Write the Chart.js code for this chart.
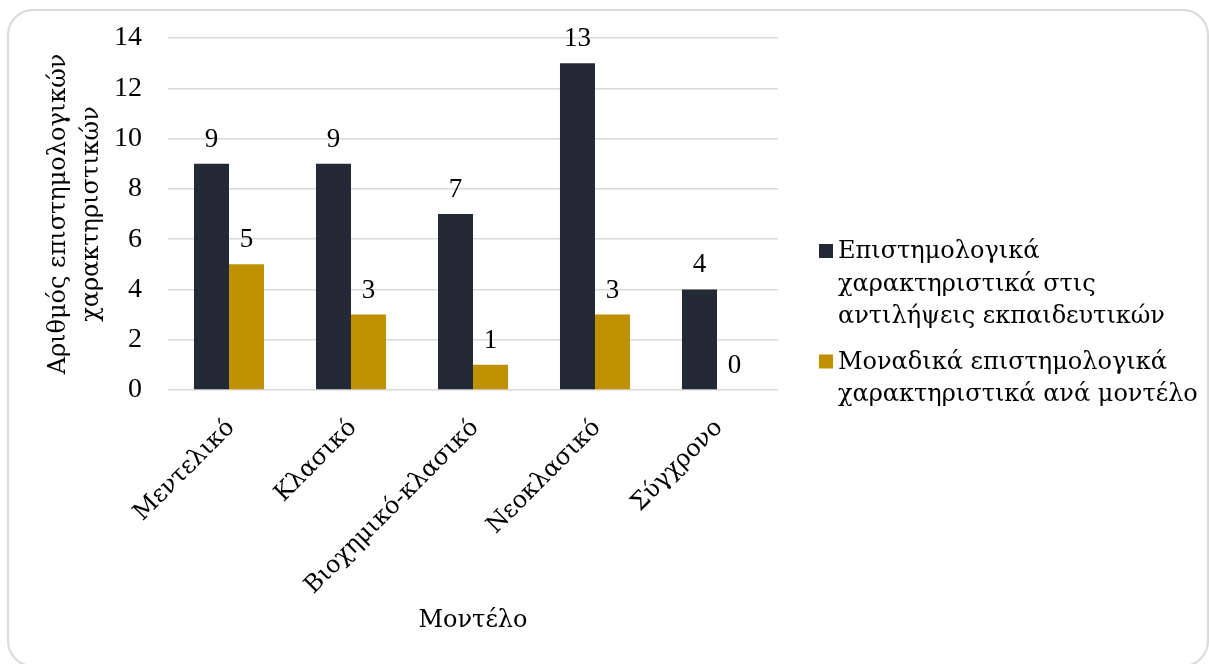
<!DOCTYPE html>
<html>
<head>
<meta charset="utf-8">
<script src="https://cdn.jsdelivr.net/npm/chart.js@4"></script>
<style>
  html, body { margin: 0; padding: 0; background: #fff; overflow: hidden; }
  #frame { position: absolute; left: 7px; top: 9px; width: 1202px; height: 658px; border: 2px solid #d9d9d9; border-radius: 26px; box-sizing: border-box; }
  #wrap { position: absolute; left: 0; top: 0; width: 1209px; height: 664px; }
</style>
</head>
<body>
<div id="frame"></div>
<div id="wrap"><canvas id="chart" width="1209" height="664"></canvas></div>
<script>
const categories = ["Μεντελικό", "Κλασικό", "Βιοχημικό-κλασικό", "Νεοκλασικό", "Σύγχρονο"]
const perceptionFeatures = [9, 9, 7, 13, 4]
const uniqueFeatures = [5, 3, 1, 3, 0]
const seriesLabels = [
  ["Επιστημολογικά", "χαρακτηριστικά στις", "αντιλήψεις εκπαιδευτικών"],
  ["Μοναδικά επιστημολογικά", "χαρακτηριστικά ανά μοντέλο"],
]
const seriesColors = ["#232a36", "#bf9000"]
const yTicks = [0, 2, 4, 6, 8, 10, 12, 14]
const yTitle = ["Αριθμός επιστημολογικών", "χαρακτηριστικών"]
const xTitle = "Μοντέλο"

const NUM_FONT = '"Liberation Serif", "Times New Roman", serif'
const TEXT_FONT = '"DejaVu Serif", "Liberation Serif", serif'

// numbers above the bars
const valueLabels = {
  id: "valueLabels",
  afterDatasetsDraw(chart) {
    const { ctx } = chart
    ctx.save()
    ctx.font = `27px ${NUM_FONT}`
    ctx.fillStyle = "#000"
    ctx.textAlign = "center"
    ctx.textBaseline = "alphabetic"
    chart.data.datasets.forEach((ds, i) => {
      chart.getDatasetMeta(i).data.forEach((bar, j) => {
        ctx.fillText(ds.data[j], bar.x, bar.y - 17)
      })
    })
    ctx.restore()
  },
}

// legend on the right, wrapped like the original
const sideLegend = {
  id: "sideLegend",
  afterDraw(chart) {
    const { ctx } = chart
    const lineH = 32.5
    let y = 252
    ctx.save()
    ctx.font = `24px ${TEXT_FONT}`
    ctx.textBaseline = "middle"
    ctx.textAlign = "left"
    chart.data.datasets.forEach((ds) => {
      ctx.fillStyle = ds.backgroundColor
      ctx.fillRect(819, y - 8, 14, 14)
      ctx.fillStyle = "#000"
      ds.label.forEach((line, k) => ctx.fillText(line, 838, y + k * lineH))
      y += ds.label.length * lineH + 13
    })
    ctx.restore()
  },
}

new Chart(document.getElementById("chart"), {
  type: "bar",
  data: {
    labels: categories,
    datasets: [
      { label: seriesLabels[0], data: perceptionFeatures, backgroundColor: seriesColors[0] },
      { label: seriesLabels[1], data: uniqueFeatures, backgroundColor: seriesColors[1] },
    ],
  },
  options: {
    responsive: false,
    animation: false,
    layout: { padding: { top: 38, right: 431, left: 0, bottom: 0 } },
    datasets: { bar: { categoryPercentage: 0.574, barPercentage: 1 } },
    plugins: { legend: { display: false }, tooltip: { enabled: false } },
    scales: {
      x: {
        grid: { display: false },
        border: { display: false },
        ticks: { color: "#000", font: { family: TEXT_FONT, size: 24 }, maxRotation: 45, minRotation: 45, padding: 16, labelOffset: 2 },
        title: { display: true, text: xTitle, color: "#000", font: { family: TEXT_FONT, size: 24, lineHeight: 1.2 }, padding: { top: 0, bottom: 29 } },
        afterFit: (scale) => { scale.height = 664 - 390 },
      },
      y: {
        min: yTicks[0],
        max: yTicks[yTicks.length - 1],
        ticks: { stepSize: yTicks[1] - yTicks[0], color: "#000", font: { family: NUM_FONT, size: 28 }, padding: 26 },
        grid: { color: "#d9d9d9", lineWidth: 1.5, drawTicks: false },
        border: { display: false },
        title: { display: true, text: yTitle, color: "#000", font: { family: TEXT_FONT, size: 24, lineHeight: 1.35 }, padding: { top: 43, bottom: 0 } },
        afterFit: (scale) => {
          scale.width = 168
          scale.paddingTop = 0
          scale.paddingBottom = 0
        },
      },
    },
  },
  plugins: [valueLabels, sideLegend],
})
</script>
</body>
</html>
